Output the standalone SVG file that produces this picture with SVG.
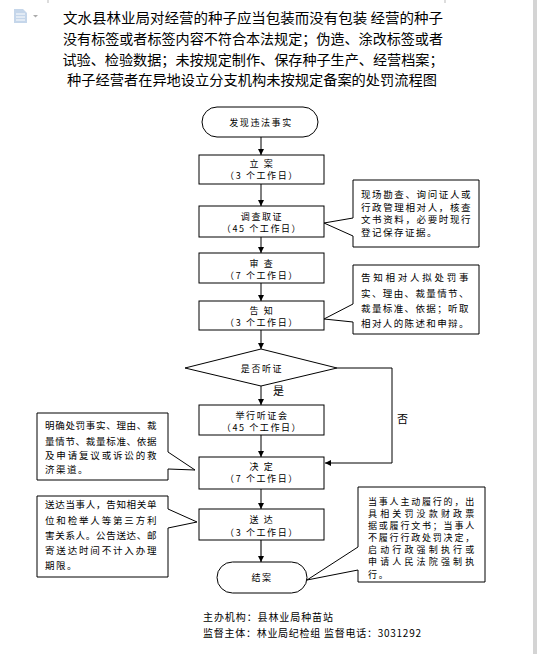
<svg xmlns="http://www.w3.org/2000/svg" width="537" height="654" viewBox="0 0 537 654">
<style>
.t{font-family:"Noto Sans CJK SC","Noto Sans",sans-serif;fill:#000}
.title{font-size:14px;text-anchor:middle}
.bx{fill:#fff;stroke:#000;stroke-width:1}
.co{fill:#fff;stroke:#000;stroke-width:1}
.bt{font-size:9px;text-anchor:middle;letter-spacing:1.6px}
.ct{font-size:9.5px;letter-spacing:1.5px}
.ct2{font-size:9px;letter-spacing:1.8px}
.ln{fill:none;stroke:#000;stroke-width:1}
</style>
<defs>
<marker id="ah" viewBox="0 0 10 10" refX="10" refY="5" markerWidth="6" markerHeight="6" orient="auto" markerUnits="userSpaceOnUse">
<path d="M0,0 L10,5 L0,10 Z" fill="#000"/>
</marker>
</defs>
<rect width="537" height="654" fill="#fff"/>
<rect x="533" y="0" width="4" height="654" fill="#d4d4d4"/>
<g id="page-marks" stroke="#bbb" stroke-width="1">
<line x1="48" y1="0" x2="48" y2="3"/>
<line x1="445" y1="0" x2="445" y2="3"/>
</g>
<g id="doc-icon">
<path d="M14,9 H23 L27,13 V23 H14 Z" fill="#c5d6ea"/>
<path d="M16,14 H25 M16,17 H25 M16,20 H25" stroke="#fff" stroke-width="1"/>
<path d="M33,15 H38 L35.5,17.5 Z" fill="#aaa"/>
</g>
<g id="title" class="t title">
<text x="253" y="23" textLength="380" lengthAdjust="spacingAndGlyphs">文水县林业局对经营的种子应当包装而没有包装 经营的种子</text>
<text x="253" y="44" textLength="380" lengthAdjust="spacingAndGlyphs">没有标签或者标签内容不符合本法规定；伪造、涂改标签或者</text>
<text x="253" y="65" textLength="381" lengthAdjust="spacingAndGlyphs">试验、检验数据；未按规定制作、保存种子生产、经营档案；</text>
<text x="252" y="85" textLength="370" lengthAdjust="spacingAndGlyphs">种子经营者在异地设立分支机构未按规定备案的处罚流程图</text>
</g>
<g id="connectors" class="ln">
<line x1="261" y1="137" x2="261" y2="155" marker-end="url(#ah)"/>
<line x1="261" y1="184" x2="261" y2="206" marker-end="url(#ah)"/>
<line x1="261" y1="237" x2="261" y2="253" marker-end="url(#ah)"/>
<line x1="261" y1="283" x2="261" y2="301" marker-end="url(#ah)"/>
<line x1="261" y1="330" x2="261" y2="349" marker-end="url(#ah)"/>
<line x1="261" y1="386" x2="261" y2="405" marker-end="url(#ah)"/>
<line x1="261" y1="435" x2="261" y2="457" marker-end="url(#ah)"/>
<line x1="261" y1="489" x2="261" y2="509" marker-end="url(#ah)"/>
<line x1="261" y1="540" x2="261" y2="562" marker-end="url(#ah)" stroke="#444" stroke-width="1.5"/>
<polyline points="337,368 392,368 392,463 325,463" marker-end="url(#ah)"/>
</g>
<g id="n-start">
<rect class="bx" x="202" y="107" width="116" height="30" rx="15"/>
<text class="t bt" x="261" y="125.5">发现违法事实</text>
</g>
<g id="n-lian">
<rect class="bx" x="199" y="155" width="125" height="29"/>
<text class="t bt" x="262" y="166.5">立 案</text>
<text class="t bt" x="262" y="179">（3 个工作日）</text>
</g>
<g id="n-diaocha">
<rect class="bx" x="199" y="206" width="125" height="31"/>
<text class="t bt" x="262" y="220">调查取证</text>
<text class="t bt" x="262" y="232">（45 个工作日）</text>
</g>
<g id="n-shencha">
<rect class="bx" x="199" y="253" width="125" height="30"/>
<text class="t bt" x="262" y="267">审 查</text>
<text class="t bt" x="262" y="279">（7 个工作日）</text>
</g>
<g id="n-gaozhi">
<rect class="bx" x="199" y="301" width="125" height="29"/>
<text class="t bt" x="262" y="314">告 知</text>
<text class="t bt" x="262" y="326">（3 个工作日）</text>
</g>
<g id="n-tingzheng">
<polygon class="bx" points="185,368 261,349 337,368 261,386"/>
<text class="t bt" x="262" y="371.5">是否听证</text>
<text class="t" x="273" y="395" font-size="11">是</text>
<text class="t" x="397" y="423" font-size="11">否</text>
</g>
<g id="n-juxing">
<rect class="bx" x="199" y="405" width="125" height="30"/>
<text class="t bt" x="262" y="418.5">举行听证会</text>
<text class="t bt" x="262" y="431">（45 个工作日）</text>
</g>
<g id="n-jueding">
<rect class="bx" x="199" y="457" width="125" height="32"/>
<text class="t bt" x="262" y="469.5">决 定</text>
<text class="t bt" x="262" y="482">（7 个工作日）</text>
</g>
<g id="n-songda">
<rect class="bx" x="199" y="509" width="125" height="31"/>
<text class="t bt" x="262" y="523">送 达</text>
<text class="t bt" x="262" y="535.5">（3 个工作日）</text>
</g>
<g id="n-end">
<rect class="bx" x="217" y="562" width="90" height="31" rx="15.5"/>
<text class="t bt" x="262" y="581">结案</text>
</g>
<g id="c-diaocha">
<path class="co" d="M353,180 H479 V247 H353 V236 L324,223 L353,218 Z"/>
<g class="t ct">
<text x="361" y="197.5" textLength="111">现场勘查、询问证人或</text>
<text x="361" y="210.5" textLength="111">行政管理相对人，核查</text>
<text x="361" y="223" textLength="111">文书资料，必要时现行</text>
<text x="361" y="236">登记保存证据。</text>
</g>
</g>
<g id="c-gaozhi">
<path class="co" d="M353,265 H479 V334 H353 V322 L324,319 L353,304 Z"/>
<g class="t ct">
<text x="361" y="280.5" textLength="109">告知相对人拟处罚事</text>
<text x="361" y="296.5" textLength="109">实、理由、裁量情节、</text>
<text x="361" y="311.5" textLength="109">裁量标准、依据；听取</text>
<text x="361" y="326.5" textLength="109">相对人的陈述和申辩。</text>
</g>
</g>
<g id="c-jueding">
<path class="co" d="M37,413 H168 V452 L195,470 L168,469 V480 H37 Z"/>
<g class="t ct">
<text x="45" y="428.5" textLength="113">明确处罚事实、理由、裁</text>
<text x="45" y="444.5" textLength="113">量情节、裁量标准、依据</text>
<text x="45" y="458.5" textLength="113">及申请复议或诉讼的救</text>
<text x="45" y="472.5">济渠道。</text>
</g>
</g>
<g id="c-songda">
<path class="co" d="M37,496 H168 V509 L197,522 L168,528 V577 H37 Z"/>
<g class="t ct">
<text x="45" y="507.5" textLength="113">送达当事人，告知相关单</text>
<text x="45" y="523.5" textLength="113">位和检举人等第三方利</text>
<text x="45" y="538.5" textLength="113">害关系人。公告送达、邮</text>
<text x="45" y="553.5" textLength="113">寄送达时间不计入办理</text>
<text x="45" y="568.5">期限。</text>
</g>
</g>
<g id="c-jiean">
<path class="co" d="M358,487 H485 V582 H358 V570 L307,580 L358,547 Z"/>
<g class="t ct2">
<text x="368" y="504.5" textLength="108">当事人主动履行的，出</text>
<text x="368" y="516.5" textLength="108">具相关罚没款财政票</text>
<text x="368" y="528.5" textLength="108">据或履行文书；当事人</text>
<text x="368" y="540.5" textLength="108">不履行行政处罚决定，</text>
<text x="368" y="552.5" textLength="108">启动行政强制执行或</text>
<text x="368" y="565" textLength="108">申请人民法院强制执</text>
<text x="368" y="578">行。</text>
</g>
</g>
<g id="footer" class="t" font-size="10">
<text x="203" y="621" textLength="130">主办机构：县林业局种苗站</text>
<text x="203" y="637" textLength="218">监督主体：林业局纪检组 监督电话：3031292</text>
</g>
</svg>
